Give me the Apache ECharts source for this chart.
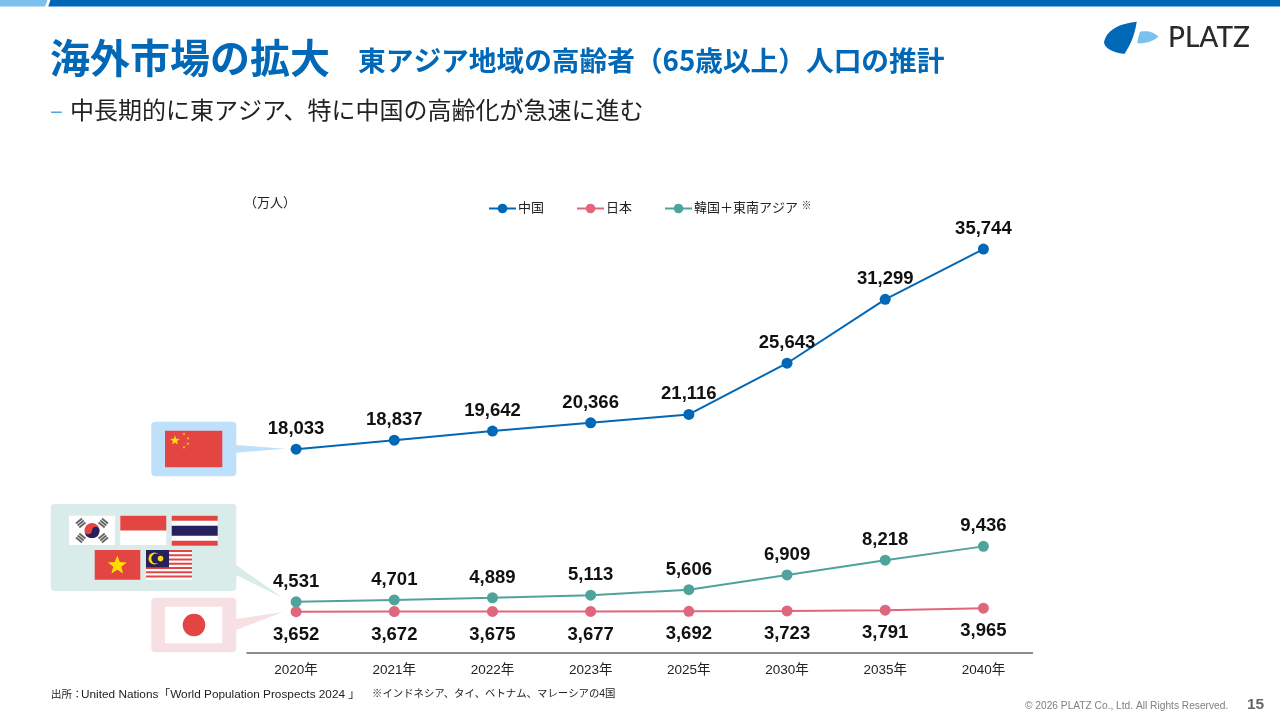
<!DOCTYPE html>
<html lang="ja">
<head>
<meta charset="utf-8">
<title>東アジア地域の高齢者人口の推計</title>
<script src="https://cdn.jsdelivr.net/npm/echarts@6/dist/echarts.min.js"></script>
<style>html,body{margin:0;padding:0;background:#fff}#c{width:1280px;height:720px}</style>
</head>
<body>
<div id="c"></div>
<script>
const categories = ['2020年','2021年','2022年','2023年','2025年','2030年','2035年','2040年'];
const china = [18033,18837,19642,20366,21116,25643,31299,35744];
const japan = [3652,3672,3675,3677,3692,3723,3791,3965];
const others = [4531,4701,4889,5113,5606,6909,8218,9436];

const BLUE='#0068b7', PINK='#e0667e', GREEN='#4fa39a', RED='#e34542', YEL='#ffdd00', NAVY='#26205c';
const JP='"Noto Sans CJK JP"', LAT='"Liberation Sans",Arial';
const FG='"Liberation Sans","Noto Sans CJK JP"';

function rect(x,y,w,h,fill,r){return {type:'rect',shape:{x,y,width:w,height:h,r:r||0},style:{fill},silent:true};}
function poly(points,fill){return {type:'polygon',shape:{points},style:{fill},silent:true};}
function circ(cx,cy,r,fill){return {type:'circle',shape:{cx,cy,r},style:{fill},silent:true};}
function star(cx,cy,r,fill){
  const p=[];
  for(let i=0;i<10;i++){const a=-Math.PI/2+i*Math.PI/5,q=i%2?r*0.42:r;p.push([cx+q*Math.cos(a),cy+q*Math.sin(a)]);}
  return poly(p,fill);
}
function txt(x,y,text,font,fill){
  return {type:'text',x,y,style:{text,font,fill,verticalAlign:'middle'},silent:true};
}
// outline made of quadratic curve pieces: start point, then [cx,cy,x,y] pieces
function curved(start,pieces,fill){
  const pts=[start];let cur=start;
  pieces.forEach(s=>{
    for(let i=1;i<=16;i++){const t=i/16,u=1-t;
      pts.push([u*u*cur[0]+2*u*t*s[0]+t*t*s[2],u*u*cur[1]+2*u*t*s[1]+t*t*s[3]]);}
    cur=[s[2],s[3]];
  });
  return poly(pts,fill);
}

const g=[];
// top bar
g.push(poly([[0,0],[47.5,0],[45,6.5],[0,6.5]],'#7cc0ee'));
g.push(poly([[50.5,0],[1280,0],[1280,6.5],[48.2,6.5]],BLUE));
// titles
g.push(txt(50,58,'海外市場の拡大','bold 40px '+JP,BLUE));
g.push(txt(358,60,'東アジア地域の高齢者（65歳以上）人口の推計','bold 27.7px '+JP,BLUE));
g.push(txt(50,110,'–','24px '+JP,'#4da6df'));
g.push(txt(70,110,'中長期的に東アジア、特に中国の高齢化が急速に進む','24px '+JP,'#222'));
// logo
g.push(curved([1136.7,21.7],[[1108,25,1104,42],[1105,51,1124.3,54],[1134,40,1136.7,21.7]],BLUE));
g.push(curved([1140,31.7],[[1151,29.5,1158.3,36.7],[1151,43.5,1137.3,43.3],[1138.2,37,1140,31.7]],'#7cc0ee'));
g.push(txt(1168,38,'PLATZ','500 28px Lato, Inter','#2a2a2a'));
// unit
g.push(txt(244,202,'（万人）','13px '+JP,'#222'));
// callouts
g.push(rect(151.3,421.7,85,54.6,'#bfe0fb',4));
g.push(poly([[236,445],[285,448.7],[236,452.7]],'#bfe0fb'));
g.push(rect(50.7,504,185.6,87,'#d9ecea',4));
g.push(poly([[236,565],[283,598],[236,575]],'#d9ecea'));
g.push(rect(151.3,597.7,85,54.6,'#f6e0e3',4));
g.push(poly([[236,619],[283,612],[236,630]],'#f6e0e3'));
// China flag
g.push(rect(165,430.7,57.3,36.6,RED));
g.push(star(175,440.5,5,YEL));
[[184,434],[188,438.3],[188,443.7],[184,447.3]].forEach(p=>g.push(star(p[0],p[1],1.6,YEL)));
// Japan flag
g.push(rect(165,606.7,57.3,36.6,'#fff'));
g.push(circ(194,625,11.3,RED));
// Korea flag
g.push(rect(69,515.7,46,29.3,'#fff'));
g.push(circ(92,530.5,7.5,RED));
g.push(curved([84.5,530.5],[[85,534.5,88.2,534.2],[91.5,534,92,530.5],[92.5,527,95.8,526.8],[99,527,99.5,530.5],[99,538,92,538],[85,538,84.5,530.5]],NAVY));
[[80.7,523,40],[103.3,523,-40],[80.7,538,-40],[103.3,538,40]].forEach(p=>{
  [-2.6,0,2.6].forEach(d=>{
    g.push({type:'rect',x:p[0],y:p[1],rotation:p[2]*Math.PI/180,shape:{x:-4,y:d-0.95,width:8,height:1.9},style:{fill:'#666'},silent:true});
  });
});
// Indonesia flag
g.push(rect(120.3,515.7,46,29.3,'#fff'));
g.push(rect(120.3,515.7,46,14.7,RED));
// Thailand flag
g.push(rect(171.7,515.7,46,30,'#fff'));
g.push(rect(171.7,515.7,46,5,RED));
g.push(rect(171.7,525.7,46,10,NAVY));
g.push(rect(171.7,540.7,46,5,RED));
// Vietnam flag
g.push(rect(94.7,550,45.6,29.7,RED));
g.push(star(117.3,565.5,10,YEL));
// Malaysia flag
g.push(rect(146,550,46,29.7,'#fff'));
for(let i=0;i<7;i++) g.push(rect(146,550+i*4.25,46,2.1,RED));
g.push(rect(146,550,23,17.3,NAVY));
g.push(circ(154.5,558.6,6,YEL));
g.push(circ(156.3,558.6,5,NAVY));
g.push(circ(160.5,558.6,2.8,YEL));
// source and footer
g.push(txt(51,694.5,'出所：','10.5px '+JP,'#222'));
g.push(txt(81,694.5,'United Nations「World Population Prospects 2024 」','11.8px '+FG,'#222'));
g.push(txt(372,694.5,'※インドネシア、タイ、ベトナム、マレーシアの4国','10.4px '+FG,'#222'));
g.push(txt(1025,706,'© 2026 PLATZ Co., Ltd. All Rights Reserved.','10.2px '+LAT,'#7f7f7f'));
g.push(txt(1247,705,'15','bold 15.5px '+LAT,'#666'));

function series(name,data,color,pos,dist){
  return {name,type:'line',data,symbol:'circle',symbolSize:11,showSymbol:true,
    lineStyle:{color,width:2},itemStyle:{color},
    label:{show:true,position:pos,distance:dist,color:'#111',fontFamily:LAT,fontSize:18.5,fontWeight:'bold',
      formatter:p=>p.value.toLocaleString('en-US')},
    z:5};
}

const chart=echarts.init(document.getElementById('c'),null,{renderer:'canvas'});
chart.setOption({
  animation:false,
  backgroundColor:'#fff',
  grid:{left:247,top:201,width:785.5,height:452,containLabel:false},
  legend:{
    top:196,left:483,itemWidth:27,itemHeight:12,itemGap:32,selectedMode:false,
    data:['中国','日本','韓国＋東南アジア'],
    textStyle:{fontFamily:FG,fontSize:13,color:'#222',padding:[0,0,0,-3],
      rich:{s:{fontSize:10,color:'#222',verticalAlign:'top',padding:[0,0,5,0]}}},
    formatter:n=>n==='韓国＋東南アジア'?n+' {s|※}':n
  },
  xAxis:{type:'category',data:categories,boundaryGap:true,
    axisLine:{lineStyle:{color:'#666',width:1.5}},axisTick:{show:false},splitLine:{show:false},
    axisLabel:{fontFamily:FG,fontSize:13.5,color:'#222',margin:11}},
  yAxis:{type:'value',min:0,max:40000,show:false,splitLine:{show:false}},
  series:[
    series('中国',china,BLUE,'top',5),
    series('日本',japan,PINK,'bottom',8),
    series('韓国＋東南アジア',others,GREEN,'top',5)
  ],
  graphic:{elements:g}
});
</script>
</body>
</html>
